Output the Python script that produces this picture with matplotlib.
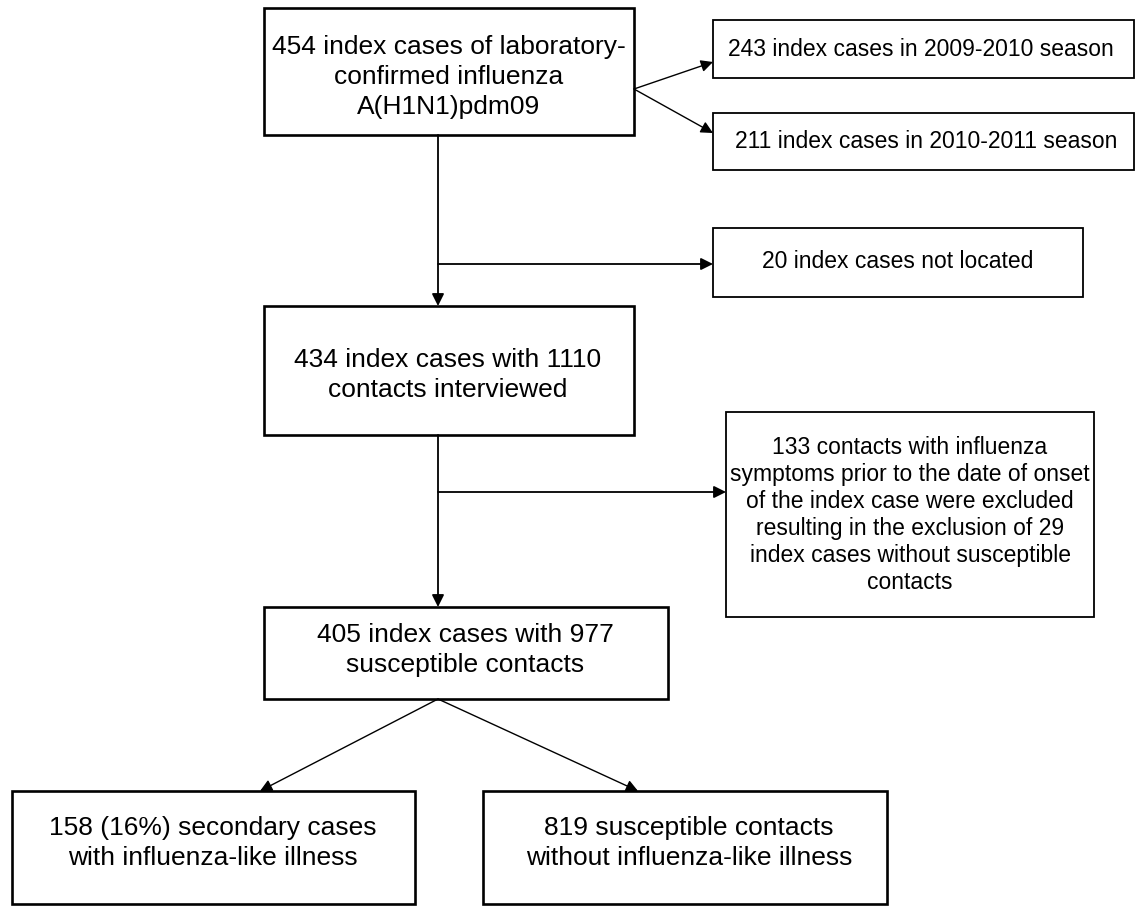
# flowchart: index cases of influenza A(H1N1)pdm09 and their contacts
import matplotlib
matplotlib.use('Agg')
from matplotlib import pyplot as plt
from matplotlib.patches import Rectangle

plt.rcParams['font.family'] = ['Liberation Sans', 'DejaVu Sans']

# textos das caixas principais (coluna da esquerda)
main_labels = [
    '454 index cases of laboratory-\nconfirmed influenza\nA(H1N1)pdm09',
    '434 index cases with 1110\ncontacts interviewed',
    '405 index cases with 977\nsusceptible contacts',
    '158 (16%) secondary cases\nwith influenza-like illness',
    '819 susceptible contacts\nwithout influenza-like illness',
]
# textos das caixas laterais
side_labels = [
    '243 index cases in 2009-2010 season',
    '211 index cases in 2010-2011 season',
    '20 index cases not located',
    '133 contacts with influenza\nsymptoms prior to the date of onset\nof the index case were excluded\n'
    'resulting in the exclusion of 29\nindex cases without susceptible\ncontacts',
]

# layout em pixels: (x0, y0, x1, y1), texto (x, y)
main_boxes = [(264, 8, 634, 135), (264, 306, 634, 435), (264, 607, 668, 699),
              (12, 791, 415, 904), (483, 791, 887, 904)]
main_text = [(449, 77), (448, 375), (465, 650), (213, 843), (689, 843)]
side_boxes = [(713, 20, 1134, 78), (713, 113, 1134, 170), (713, 228, 1083, 297),
              (726, 412, 1094, 617)]
side_text = [(921, 50), (926, 142), (898, 262), (910, 515)]

fig = plt.figure(figsize=(11.36, 9.06), dpi=100)
ax = fig.add_axes([0, 0, 1, 1])
ax.set_xlim(0, 1136)
ax.set_ylim(906, 0)
ax.axis('off')

for (x0, y0, x1, y1), (tx, ty), txt in zip(main_boxes, main_text, main_labels):
    ax.add_patch(Rectangle((x0, y0), x1 - x0, y1 - y0, fill=False, lw=1.9, ec='black'))
    ax.text(tx, ty, txt, ha='center', va='center', fontsize=19, linespacing=1.3)

for (x0, y0, x1, y1), (tx, ty), txt in zip(side_boxes, side_text, side_labels):
    ax.add_patch(Rectangle((x0, y0), x1 - x0, y1 - y0, fill=False, lw=1.3, ec='black'))
    ax.text(tx, ty, txt, ha='center', va='center', fontsize=16.5, linespacing=1.23)


def seta(p0, p1, lw=1.3):
    ax.annotate('', xy=p1, xytext=p0,
                arrowprops=dict(arrowstyle='-|>,head_length=0.4,head_width=0.2',
                                mutation_scale=18, lw=lw, color='black',
                                shrinkA=0, shrinkB=0))


# linhas e setas
seta((634, 89), (713, 62), lw=1.0)
seta((634, 89), (713, 133), lw=1.0)
seta((438, 135), (438, 306))
seta((438, 264), (713, 264))
seta((438, 435), (438, 607))
seta((438, 492), (726, 492))
seta((438, 699), (260, 791), lw=1.0)
seta((438, 699), (638, 791), lw=1.0)

fig.savefig('out.png', dpi=100)
